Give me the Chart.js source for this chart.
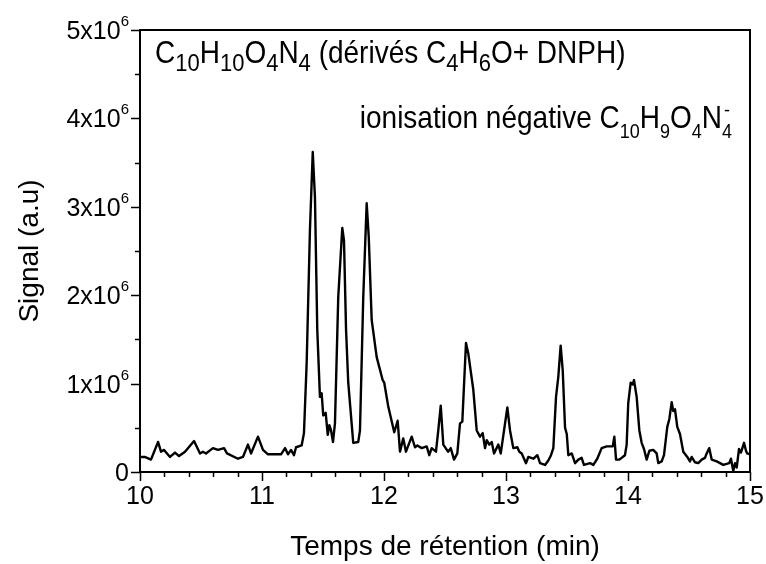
<!DOCTYPE html>
<html>
<head>
<meta charset="utf-8">
<script src="https://cdn.jsdelivr.net/npm/chart.js@4.4.1/dist/chart.umd.min.js"></script>
<style>
    html, body { margin: 0; padding: 0; background: #fff; }
    #chart_div { width: 766px; height: 564px; }
</style>
</head>
<body>
<div id="chart_div"><canvas id="chromatogram" width="766" height="564"></canvas></div>
<script>
const FONT = "'Liberation Sans', Arial, sans-serif";

// retention time (min) and signal (x10^6 a.u.)
const retention_time = [
    10.000, 10.039, 10.090, 10.148, 10.172, 10.197, 10.246, 10.287, 10.320, 10.369,
    10.443, 10.492, 10.516, 10.541, 10.598, 10.639, 10.689, 10.713, 10.803, 10.844,
    10.885, 10.910, 10.967, 11.008, 11.049, 11.156, 11.189, 11.213, 11.238, 11.262,
    11.279, 11.325, 11.344, 11.366, 11.393, 11.416, 11.434, 11.453, 11.475, 11.489,
    11.502, 11.522, 11.539, 11.552, 11.566, 11.582, 11.598, 11.625, 11.658, 11.672,
    11.689, 11.707, 11.721, 11.748, 11.789, 11.803, 11.830, 11.858, 11.875, 11.899,
    11.940, 11.989, 12.002, 12.035, 12.084, 12.112, 12.131, 12.158, 12.180, 12.227,
    12.254, 12.273, 12.309, 12.350, 12.371, 12.391, 12.426, 12.445, 12.465, 12.486,
    12.525, 12.547, 12.574, 12.601, 12.623, 12.642, 12.672, 12.691, 12.732, 12.760,
    12.787, 12.809, 12.828, 12.842, 12.863, 12.883, 12.902, 12.937, 12.957, 12.984,
    13.011, 13.033, 13.060, 13.093, 13.109, 13.129, 13.164, 13.183, 13.224, 13.257,
    13.279, 13.320, 13.347, 13.369, 13.388, 13.410, 13.429, 13.448, 13.465, 13.484,
    13.498, 13.511, 13.539, 13.566, 13.593, 13.620, 13.639, 13.689, 13.716, 13.748,
    13.784, 13.825, 13.875, 13.888, 13.902, 13.929, 13.975, 13.989, 14.002, 14.022,
    14.039, 14.049, 14.071, 14.093, 14.112, 14.131, 14.153, 14.175, 14.207, 14.235,
    14.248, 14.276, 14.295, 14.322, 14.339, 14.358, 14.371, 14.385, 14.404, 14.426,
    14.453, 14.486, 14.508, 14.522, 14.549, 14.576, 14.604, 14.631, 14.645, 14.666,
    14.686, 14.727, 14.781, 14.830, 14.844, 14.863, 14.877, 14.891, 14.910, 14.926,
    14.951, 14.967, 14.977, 15.000
];
const signal_millions = [
    0.17, 0.17, 0.14, 0.34, 0.23, 0.25, 0.17, 0.22, 0.18, 0.23,
    0.35, 0.21, 0.23, 0.21, 0.27, 0.25, 0.27, 0.21, 0.15, 0.17,
    0.31, 0.21, 0.40, 0.25, 0.20, 0.20, 0.27, 0.20, 0.25, 0.19,
    0.28, 0.30, 0.44, 1.23, 2.74, 3.62, 3.11, 1.61, 0.85, 0.89,
    0.64, 0.67, 0.42, 0.53, 0.47, 0.34, 0.55, 1.98, 2.76, 2.62,
    1.61, 1.01, 0.78, 0.33, 0.34, 0.47, 1.98, 3.04, 2.66, 1.72,
    1.30, 1.04, 1.01, 0.74, 0.45, 0.58, 0.23, 0.38, 0.23, 0.40,
    0.28, 0.30, 0.27, 0.29, 0.19, 0.27, 0.23, 0.47, 0.75, 0.31,
    0.23, 0.27, 0.14, 0.21, 0.55, 0.57, 1.46, 1.34, 0.93, 0.47,
    0.40, 0.44, 0.27, 0.36, 0.31, 0.34, 0.21, 0.31, 0.21, 0.47,
    0.73, 0.47, 0.27, 0.28, 0.23, 0.21, 0.10, 0.17, 0.15, 0.19,
    0.10, 0.08, 0.13, 0.19, 0.27, 0.85, 1.08, 1.43, 1.15, 0.50,
    0.43, 0.19, 0.21, 0.10, 0.14, 0.16, 0.08, 0.10, 0.08, 0.15,
    0.27, 0.29, 0.29, 0.40, 0.14, 0.14, 0.19, 0.31, 0.78, 1.01,
    0.99, 1.04, 0.85, 0.47, 0.33, 0.26, 0.14, 0.24, 0.25, 0.21,
    0.10, 0.12, 0.19, 0.51, 0.60, 0.79, 0.69, 0.71, 0.51, 0.43,
    0.23, 0.17, 0.12, 0.17, 0.11, 0.10, 0.14, 0.16, 0.21, 0.27,
    0.14, 0.12, 0.08, 0.10, 0.15, 0.01, 0.10, 0.05, 0.26, 0.22,
    0.33, 0.24, 0.21, 0.20
];

const y_tick_values = [0, 1, 2, 3, 4, 5];
const y_tick_exponent = '6';
const x_label = 'Temps de rétention (min)';
const y_label = 'Signal (a.u)';

// [text, is_subscript]
const formula_runs = [
    ['C', 0], ['10', 1], ['H', 0], ['10', 1], ['O', 0], ['4', 1], ['N', 0], ['4', 1],
    [' (dérivés C', 0], ['4', 1], ['H', 0], ['6', 1], ['O+ DNPH)', 0]
];
const ion_runs = [
    ['ionisation négative C', 0], ['10', 1], ['H', 0], ['9', 1], ['O', 0], ['4', 1], ['N', 0], ['4', 1]
];
const ion_charge = '-';

// text is a bit taller than wide in the original, so stretch it vertically
const TEXT_STRETCH = 1.1;

function draw_runs(ctx, runs, x, y, size, sub_size, sub_drop, align) {
    let total = 0;
    runs.forEach(function (r) {
        ctx.font = (r[1] ? sub_size : size) + 'px ' + FONT;
        total += ctx.measureText(r[0]).width;
    });
    let cx = align === 'right' ? x - total : x;
    let last_x = cx;
    ctx.save();
    ctx.translate(0, y);
    ctx.scale(1, TEXT_STRETCH);
    ctx.textAlign = 'left';
    ctx.textBaseline = 'alphabetic';
    runs.forEach(function (r) {
        ctx.font = (r[1] ? sub_size : size) + 'px ' + FONT;
        last_x = cx;
        ctx.fillText(r[0], cx, r[1] ? sub_drop / TEXT_STRETCH : 0);
        cx += ctx.measureText(r[0]).width;
    });
    ctx.restore();
    return last_x;
}

const decorations = {
    id: 'decorations',
    afterDraw: function (chart) {
        const ctx = chart.ctx;
        const area = chart.chartArea;
        const xs = chart.scales.x;
        const ys = chart.scales.y;
        ctx.save();
        ctx.strokeStyle = '#000';
        ctx.fillStyle = '#000';

        // frame
        ctx.lineWidth = 2;
        ctx.strokeRect(area.left, area.top, area.right - area.left, area.bottom - area.top);

        // x ticks, major every 1, minor every 0.2
        ctx.lineWidth = 1.5;
        ctx.beginPath();
        for (let i = 0; i <= 25; i++) {
            const v = xs.min + i * 0.2;
            const px = Math.round(xs.getPixelForValue(v)) + 0.5;
            const len = i % 5 === 0 ? 9 : 5;
            ctx.moveTo(px, area.bottom);
            ctx.lineTo(px, area.bottom + len);
        }
        // y ticks, major every 1, minor every 0.5
        for (let i = 0; i <= 10; i++) {
            const v = ys.min + i * 0.5;
            const py = Math.round(ys.getPixelForValue(v)) + 0.5;
            const len = i % 2 === 0 ? 9 : 5;
            ctx.moveTo(area.left, py);
            ctx.lineTo(area.left - len, py);
        }
        ctx.stroke();

        // y tick labels with superscript exponent
        y_tick_values.forEach(function (v) {
            const py = ys.getPixelForValue(v);
            ctx.textAlign = 'right';
            ctx.textBaseline = 'alphabetic';
            if (v === 0) {
                ctx.font = '25px ' + FONT;
                ctx.fillText('0', 129, py + 9);
            } else {
                ctx.font = '15px ' + FONT;
                ctx.fillText(y_tick_exponent, 129, py - 4);
                const ew = ctx.measureText(y_tick_exponent).width;
                ctx.font = '25px ' + FONT;
                ctx.fillText(v + 'x10', 129 - ew, py + 9);
            }
        });

        // annotations
        draw_runs(ctx, formula_runs, 155, 63, 28, 22, 8, 'left');
        const sub_x = draw_runs(ctx, ion_runs, 732, 128, 28, 18, 10, 'right');
        ctx.font = '18px ' + FONT;
        ctx.textAlign = 'left';
        ctx.fillText(ion_charge, sub_x + 2, 116);
        ctx.restore();
    }
};

const points = [];
for (let i = 0; i < retention_time.length; i++) {
    points.push({ x: retention_time[i], y: signal_millions[i] });
}

Chart.defaults.font.family = FONT;
Chart.defaults.color = '#000';

const config = {
    type: 'line',
    data: {
        datasets: [{
            data: points,
            borderColor: '#000',
            borderWidth: 2.4,
            borderJoinStyle: 'round',
            pointRadius: 0,
            tension: 0,
            fill: false
        }]
    },
    options: {
        responsive: false,
        animation: false,
        events: [],
        layout: { padding: { left: 0, right: 16, top: 30, bottom: 0 } },
        scales: {
            x: {
                type: 'linear',
                min: 10,
                max: 15,
                grid: { display: false, tickLength: 8 },
                border: { display: false },
                ticks: { stepSize: 1, padding: 2, font: { size: 25 }, color: '#000', maxRotation: 0 },
                title: { display: true, text: x_label, font: { size: 28 }, padding: { top: 0, bottom: 0 } },
                afterFit: function (scale) { scale.height = 92; }
            },
            y: {
                min: 0,
                max: 5,
                grid: { display: false },
                border: { display: false },
                ticks: { display: false, stepSize: 1 },
                title: { display: true, text: y_label, font: { size: 28 }, padding: { top: 13, bottom: 0 } },
                afterFit: function (scale) { scale.width = 140; }
            }
        },
        plugins: {
            legend: { display: false },
            tooltip: { enabled: false },
            decorations
        }
    },
    plugins: [decorations]
};

new Chart(document.getElementById('chromatogram').getContext('2d'), config);
</script>
</body>
</html>
